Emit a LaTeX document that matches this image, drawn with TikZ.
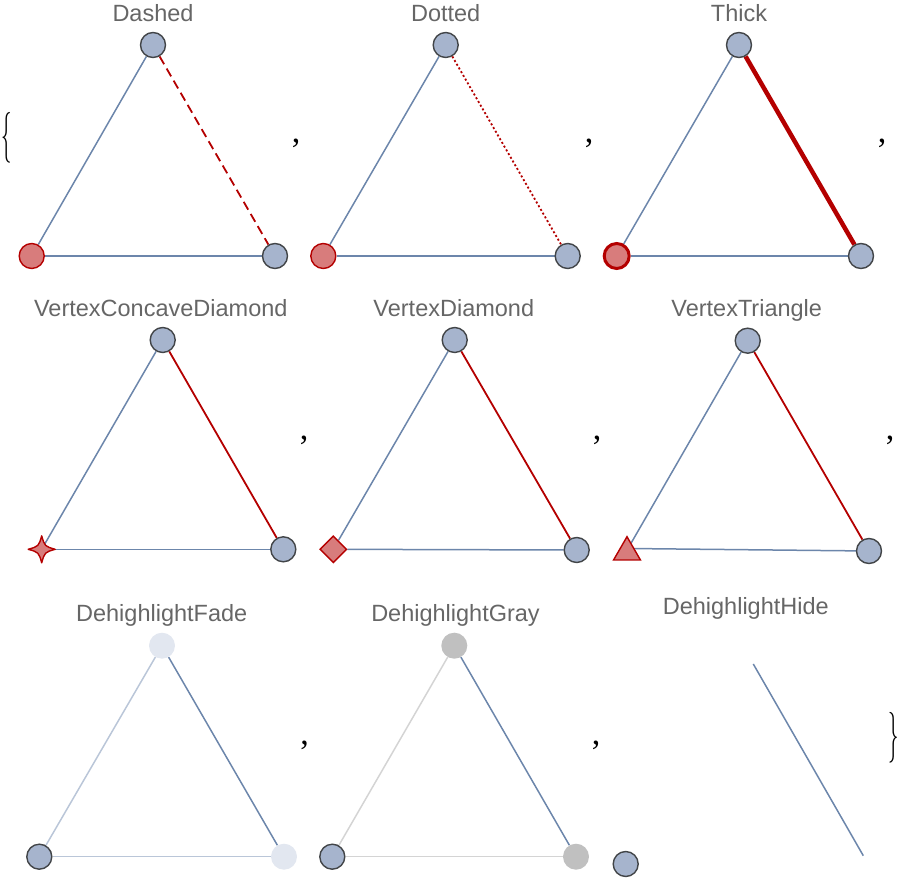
\documentclass[tikz,border=0pt]{standalone}
\usepackage{fontspec}
\setmainfont{Liberation Sans}
\newfontfamily\commafont{Liberation Serif}
\usetikzlibrary{shapes.geometric}
\definecolor{vfill}{HTML}{A6B4CD}
\definecolor{vstroke}{HTML}{424548}
\definecolor{ecol}{HTML}{6C86AB}
\definecolor{rstroke}{HTML}{B40000}
\definecolor{rfill}{HTML}{D87C7C}
\definecolor{tgray}{HTML}{666666}
\definecolor{fadefill}{HTML}{E2E7F0}
\definecolor{fadeedge}{HTML}{BAC6D8}
\definecolor{grayfill}{HTML}{C0C0C0}
\definecolor{grayedge}{HTML}{D4D4D4}
\pgfdeclarelayer{bg}
\pgfsetlayers{bg,main}
\tikzset{
  vtx/.style={circle, fill=vfill, draw=vstroke, line width=1.4pt, minimum size=25pt, inner sep=0pt},
  vred/.style={circle, fill=rfill, draw=rstroke, line width=1.4pt, minimum size=25pt, inner sep=0pt},
  vredthick/.style={vred, line width=3pt},
  vfade/.style={circle, fill=fadefill, draw=none, minimum size=26pt, inner sep=0pt},
  vgray/.style={circle, fill=grayfill, draw=none, minimum size=26pt, inner sep=0pt},
  vdiam/.style={diamond, aspect=1, fill=rfill, draw=rstroke, line width=1.4pt, minimum width=27pt, minimum height=27pt, inner sep=0pt},
  vtri/.style={regular polygon, regular polygon sides=3, fill=rfill, draw=rstroke, line width=1.4pt, minimum size=31pt, inner sep=0pt},
  edge/.style={draw=ecol, line width=1.5pt},
  redge/.style={draw=rstroke, line width=1.8pt},
  dashedge/.style={redge, dash pattern=on 9pt off 5pt},
  dotedge/.style={redge, dash pattern=on 2pt off 2.3pt},
  thickedge/.style={draw=rstroke, line width=4.5pt},
  fadeedgest/.style={draw=fadeedge, line width=1.5pt},
  grayedgest/.style={draw=grayedge, line width=1.5pt},
  title/.style={text=tgray, font=\fontsize{23.5}{28}\selectfont, anchor=base, inner sep=0pt},
  comma/.style={font=\commafont\fontsize{34}{36}\selectfont, inner sep=0pt},
  brace/.style={inner sep=0pt}
}
\newcommand{\tallbrace}[1]{\scalebox{1}[2.45]{\fontsize{20}{20}\selectfont$#1$}}
\begin{document}
\begin{tikzpicture}[x=1pt, y=-1pt]
\useasboundingbox (0,0) rectangle (903,885);

% ---------- Row 1 ----------
\node[title] (t1) at (153,22) {Dashed};
\node[vtx] (a1) at (153,45) {};
\node[vred] (b1) at (31.7,256) {};
\node[vtx] (c1) at (275,256) {};

\node[title] (t2) at (445.7,22) {Dotted};
\node[vtx] (a2) at (445.7,45) {};
\node[vred] (b2) at (323.3,256) {};
\node[vtx] (c2) at (567.7,256) {};

\node[title] (t3) at (739,22) {Thick};
\node[vtx] (a3) at (739,45) {};
\node[vredthick] (b3) at (616.7,256) {};
\node[vtx] (c3) at (861,256) {};

% ---------- Row 2 ----------
\node[title] (t4) at (160.8,317) {VertexConcaveDiamond};
\node[vtx] (a4) at (162.7,340) {};
\coordinate (b4) at (41.7,549.3);
\node[vtx] (c4) at (283.3,549.3) {};

\node[title] (t5) at (453.8,317) {VertexDiamond};
\node[vtx] (a5) at (454.7,340) {};
\node[vdiam] (b5) at (333.3,549.3) {};
\node[vtx] (c5) at (576.7,550) {};

\node[title] (t6) at (746.7,317) {VertexTriangle};
\node[vtx] (a6) at (747.7,340.7) {};
\coordinate (b6) at (628,548.5);
\node[vtri] (tri6) at (627,552.2) {};
\node[vtx] (c6) at (869,551) {};

% ---------- Row 3 ----------
\node[title] (t7) at (161.7,621) {DehighlightFade};
\node[vfade] (a7) at (162,645.7) {};
\node[vtx] (b7) at (39.3,856.7) {};
\node[vfade] (c7) at (284,856.7) {};

\node[title] (t8) at (455.5,621) {DehighlightGray};
\node[vgray] (a8) at (454.3,645.7) {};
\node[vtx] (b8) at (332.3,856.7) {};
\node[vgray] (c8) at (576,856.7) {};

\node[title] (t9) at (745.8,614) {DehighlightHide};
\coordinate (h1) at (753.3,664);
\coordinate (h2) at (863.3,855.7);
\node[vtx] (v9) at (625.7,864) {};

% concave diamond vertex
\begin{scope}[shift={(b4)}]
\path[fill=rfill, draw=rstroke, line width=1.4pt, line join=round]
  (13.5,0) .. controls (3,3) .. (0,13.5) .. controls (-3,3) .. (-13.5,0)
  .. controls (-3,-3) .. (0,-13.5) .. controls (3,-3) .. (13.5,0) -- cycle;
\end{scope}

% ---------- Edges ----------
\begin{pgfonlayer}{bg}
\draw[edge] (a1) -- (b1);
\draw[edge] (b1) -- (c1);
\draw[dashedge] (a1) -- (c1);

\draw[edge] (a2) -- (b2);
\draw[edge] (b2) -- (c2);
\draw[dotedge] (a2) -- (c2);

\draw[edge] (a3) -- (b3);
\draw[edge] (b3) -- (c3);
\draw[thickedge] (a3) -- (c3);

\draw[edge] (a4) -- (b4);
\draw[edge] (b4) -- (c4);
\draw[redge] (a4) -- (c4);

\draw[edge] (a5) -- (b5);
\draw[edge] (b5) -- (c5);
\draw[redge] (a5) -- (c5);

\draw[edge] (a6) -- (b6);
\draw[edge] (b6) -- (c6);
\draw[redge] (a6) -- (c6);

\draw[fadeedgest] (a7) -- (b7);
\draw[fadeedgest] (b7) -- (c7);
\draw[edge] (a7) -- (c7);

\draw[grayedgest] (a8) -- (b8);
\draw[grayedgest] (b8) -- (c8);
\draw[edge] (a8) -- (c8);

\draw[edge] (h1) -- (h2);
\end{pgfonlayer}

% ---------- Braces and commas ----------
\node[brace] (lb) at (7,138) {\tallbrace{\{}};
\node[brace] (rb) at (893.5,738) {\tallbrace{\}}};
\node[comma] (k1) at (296,143.5) {,};
\node[comma] (k2) at (589,143.5) {,};
\node[comma] (k3) at (882,143.5) {,};
\node[comma] (k4) at (304,440) {,};
\node[comma] (k5) at (597,440) {,};
\node[comma] (k6) at (890,440) {,};
\node[comma] (k7) at (304.5,745) {,};
\node[comma] (k8) at (596,745) {,};
\end{tikzpicture}
\end{document}
